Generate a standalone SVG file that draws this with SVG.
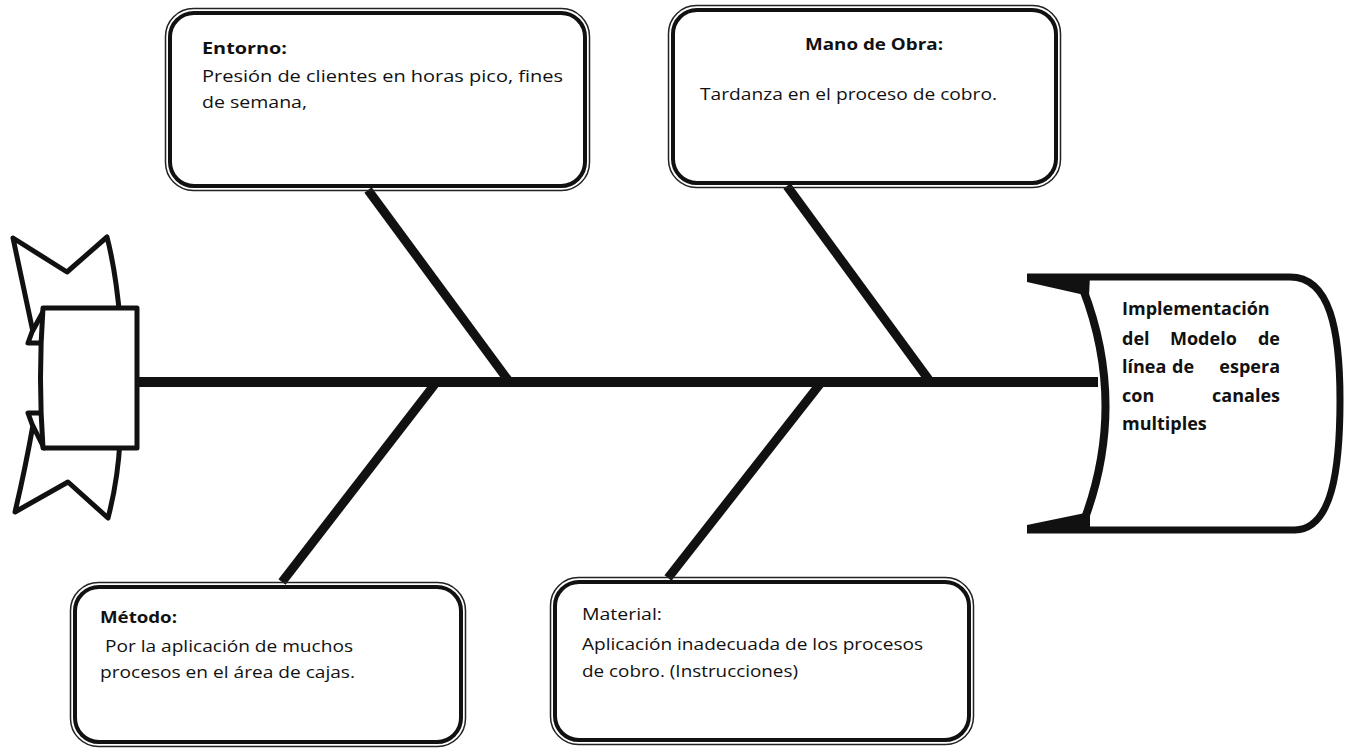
<svg xmlns="http://www.w3.org/2000/svg" width="1351" height="749" viewBox="0 0 1351 749">
<style>
  .bone { stroke:#111; stroke-width:9; stroke-linecap:butt; fill:none; }
  .spine { stroke:#111; stroke-width:10; fill:none; }
  .outer { fill:none; stroke:#222; stroke-width:1.5; }
  .inner { fill:#fff; stroke:#111; stroke-width:4; }
  .t { font-family:"Open Sans","Liberation Sans",sans-serif; font-size:16px; fill:#111; }
  .h { font-size:18px; }
  .b { font-weight:bold; }
  .e { text-anchor:end; }
  .shape { fill:#fff; stroke:#111; stroke-width:5; stroke-linejoin:round; }
</style>
<rect x="0" y="0" width="1351" height="749" fill="#fff"/>

<g id="connectors">
  <line class="spine" x1="135" y1="382" x2="1098" y2="382"/>
  <line class="bone" x1="368" y1="190" x2="508" y2="380"/>
  <line class="bone" x1="787" y1="186" x2="929" y2="380"/>
  <line class="bone" x1="435" y1="384" x2="282" y2="582"/>
  <line class="bone" x1="820" y1="384" x2="668" y2="578"/>
</g>

<g id="tail">
  <path class="shape" d="M13,238 L67,272 L107,237 Q116,272 120,320 L60,340 L33,332 Q24,290 13,238 Z"/>
  <path class="shape" d="M15,512 L68,482 L108,518 Q118,480 120,440 L60,420 L33,425 Q25,470 15,512 Z"/>
  <path class="shape" d="M28,343 L44,343 L44,310 L32,332 Z"/>
  <path class="shape" d="M28,413 L44,413 L44,448 L32,424 Z"/>
  <path class="shape" d="M43,308 L137,308 L137,448 L43,448 Q38,378 43,308 Z"/>
</g>

<g id="head">
  <path fill="none" stroke="#111" stroke-width="7" stroke-linejoin="round" d="M1027,277 L1290,277 C1330,277 1340,330 1340,400 C1340,470 1332,529 1295,530 L1027,530"/>
  <polygon fill="#111" points="1027,276 1090,276 1089,296 1027,282"/>
  <polygon fill="#111" points="1027,531 1090,531 1090,512 1027,525"/>
  <path fill="none" stroke="#111" stroke-width="8" d="M1083,289 Q1127,403 1085,518"/>
  <text class="t b h" x="1122" y="315">Implementación</text>
  <text class="t b h" x="1122" y="345">del</text>
  <text class="t b h" x="1170" y="345">Modelo</text>
  <text class="t b h e" x="1280" y="345">de</text>
  <text class="t b h" x="1122" y="373">línea</text>
  <text class="t b h" x="1172" y="373">de</text>
  <text class="t b h e" x="1280" y="373">espera</text>
  <text class="t b h" x="1122" y="402">con</text>
  <text class="t b h e" x="1280" y="402">canales</text>
  <text class="t b h" x="1122" y="430">multiples</text>
</g>

<g id="entorno">
  <rect class="outer" x="165.5" y="8.5" width="424" height="182" rx="28"/>
  <rect class="inner" x="170" y="13" width="415" height="173" rx="24"/>
  <text class="t b" x="202" y="54" textLength="85" lengthAdjust="spacingAndGlyphs">Entorno:</text>
  <text class="t" x="202" y="82" textLength="361" lengthAdjust="spacingAndGlyphs">Presión de clientes en horas pico, fines</text>
  <text class="t" x="202" y="108" textLength="105" lengthAdjust="spacingAndGlyphs">de semana,</text>
</g>

<g id="mano-de-obra">
  <rect class="outer" x="668.5" y="5.5" width="392" height="182" rx="28"/>
  <rect class="inner" x="673" y="10" width="383" height="173" rx="24"/>
  <text class="t b" x="805" y="50" textLength="138" lengthAdjust="spacingAndGlyphs">Mano de Obra:</text>
  <text class="t" x="700" y="100" textLength="297" lengthAdjust="spacingAndGlyphs">Tardanza en el proceso de cobro.</text>
</g>

<g id="metodo">
  <rect class="outer" x="70.5" y="582.5" width="395" height="164" rx="28"/>
  <rect class="inner" x="75" y="587" width="386" height="155" rx="24"/>
  <text class="t b" x="100" y="623" textLength="77" lengthAdjust="spacingAndGlyphs">Método:</text>
  <text class="t" x="100" y="652" xml:space="preserve" textLength="253" lengthAdjust="spacingAndGlyphs"> Por la aplicación de muchos</text>
  <text class="t" x="100" y="678" textLength="255" lengthAdjust="spacingAndGlyphs">procesos en el área de cajas.</text>
</g>

<g id="material">
  <rect class="outer" x="550.5" y="577.5" width="423" height="167" rx="28"/>
  <rect class="inner" x="555" y="582" width="414" height="158" rx="24"/>
  <text class="t" x="582" y="620" textLength="80" lengthAdjust="spacingAndGlyphs">Material:</text>
  <text class="t" x="582" y="650" textLength="341" lengthAdjust="spacingAndGlyphs">Aplicación inadecuada de los procesos</text>
  <text class="t" x="582" y="677" textLength="216" lengthAdjust="spacingAndGlyphs">de cobro. (Instrucciones)</text>
</g>
</svg>
